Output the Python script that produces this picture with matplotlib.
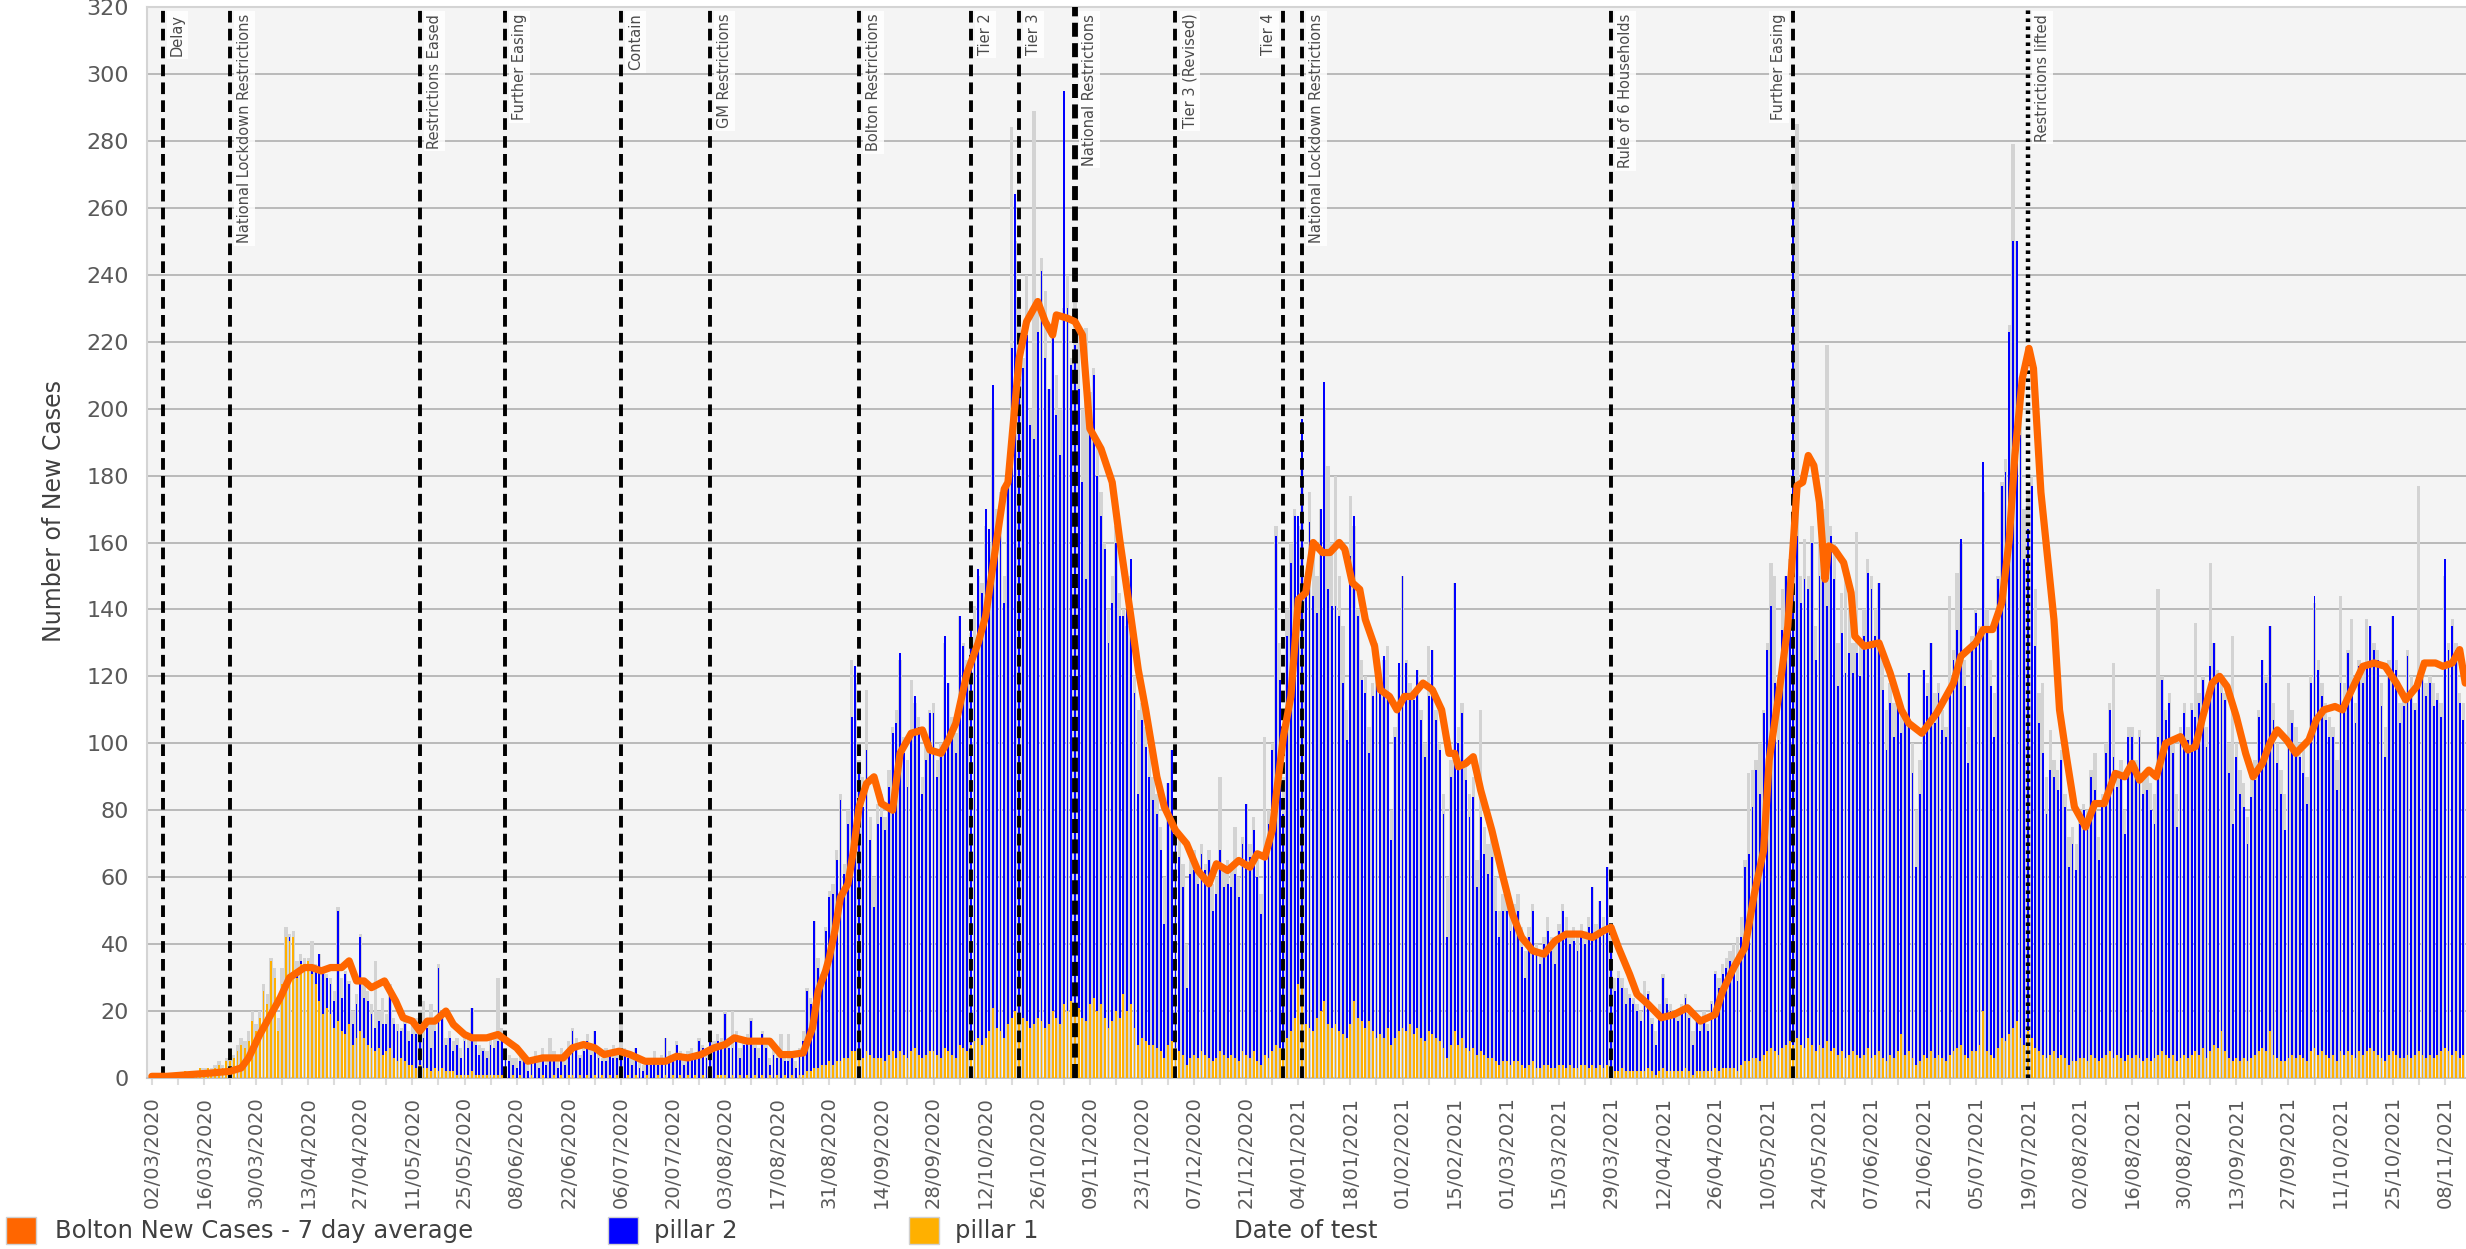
import matplotlib
matplotlib.use("Agg")
import matplotlib.pyplot as plt
from matplotlib.patches import Rectangle
import numpy as np
import pandas as pd

start = pd.Timestamp("2020-03-02")

# daily values, one row per fortnight from 02/03/2020
total_cases = [
    0, 0, 0, 0, 1, 0, 1, 1, 1, 2, 1, 2, 2, 3,
    3, 3, 3, 4, 5, 4, 6, 6, 7, 10, 12, 11, 14, 20,
    16, 20, 28, 25, 36, 33, 18, 33, 45, 43, 44, 35, 37, 36,
    36, 41, 34, 37, 33, 31, 30, 26, 51, 30, 32, 29, 20, 25,
    43, 30, 26, 22, 35, 20, 24, 19, 28, 18, 16, 15, 17, 14,
    16, 18, 14, 23, 17, 22, 16, 34, 20, 12, 14, 11, 12, 9,
    12, 13, 21, 11, 10, 9, 8, 13, 12, 30, 15, 9, 7, 6,
    6, 8, 7, 4, 6, 8, 5, 9, 7, 12, 8, 5, 9, 6,
    11, 15, 12, 7, 10, 13, 9, 14, 8, 6, 9, 8, 10, 7,
    16, 9, 7, 6, 9, 5, 4, 6, 5, 8, 5, 7, 12, 8,
    7, 11, 8, 6, 8, 9, 7, 12, 10, 9, 14, 11, 13, 12,
    20, 12, 20, 14, 9, 12, 13, 18, 10, 9, 14, 11, 6, 9,
    7, 13, 6, 13, 8, 5, 9, 14, 27, 24, 47, 36, 31, 45,
    56, 58, 68, 85, 64, 80, 125, 118, 95, 90, 116, 78, 60, 82,
    85, 78, 92, 105, 110, 125, 102, 95, 119, 112, 108, 90, 100, 110,
    112, 95, 100, 130, 118, 108, 103, 138, 130, 125, 133, 141, 150, 148,
    165, 160, 200, 170, 175, 150, 180, 284, 250, 230, 215, 240, 200, 289,
    230, 245, 235, 206, 225, 210, 200, 230, 240, 215, 235, 222, 200, 224,
    205, 212, 190, 175, 160, 140, 150, 165, 145, 140, 135, 150, 120, 110,
    112, 105, 98, 90, 85, 75, 60, 88, 98, 78, 72, 64, 40, 65,
    68, 62, 70, 64, 68, 58, 60, 90, 62, 65, 64, 75, 60, 72,
    82, 70, 78, 65, 55, 102, 80, 100, 165, 130, 90, 140, 160, 170,
    165, 185, 150, 175, 160, 150, 170, 200, 183, 160, 180, 150, 135, 110,
    174, 165, 140, 125, 120, 105, 118, 130, 120, 125, 129, 80, 105, 120,
    150, 125, 118, 115, 122, 110, 100, 129, 128, 110, 100, 85, 60, 95,
    148, 105, 112, 95, 85, 90, 65, 110, 75, 70, 72, 60, 50, 55,
    55, 50, 52, 55, 45, 38, 45, 52, 40, 38, 42, 48, 42, 40,
    46, 52, 48, 44, 45, 42, 46, 44, 48, 57, 46, 53, 48, 63,
    45, 30, 32, 30, 27, 25, 24, 22, 20, 29, 26, 18, 14, 22,
    31, 24, 22, 20, 19, 22, 25, 19, 14, 18, 17, 20, 16, 23,
    32, 30, 34, 36, 38, 40, 42, 48, 65, 91, 92, 95, 100, 110,
    130, 154, 150, 120, 146, 150, 155, 270, 285, 150, 161, 150, 165, 135,
    160, 170, 219, 165, 160, 130, 145, 150, 140, 130, 163, 130, 140, 155,
    150, 140, 148, 125, 110, 118, 112, 115, 110, 108, 121, 100, 80, 95,
    122, 118, 130, 115, 118, 110, 105, 144, 128, 151, 160, 125, 105, 132,
    140, 135, 175, 140, 125, 115, 150, 178, 185, 225, 279, 250, 200, 170,
    175, 180, 146, 115, 118, 90, 104, 95, 92, 98, 85, 72, 75, 70,
    80, 82, 80, 92, 97, 72, 85, 100, 112, 124, 92, 95, 80, 105,
    105, 95, 104, 90, 92, 88, 85, 146, 120, 110, 115, 100, 85, 105,
    112, 105, 112, 136, 115, 120, 105, 154, 130, 122, 120, 115, 100, 132,
    100, 92, 88, 78, 90, 95, 110, 125, 120, 135, 112, 100, 92, 85,
    118, 110, 105, 100, 98, 90, 120, 142, 125, 118, 112, 108, 105, 95,
    144, 118, 128, 137, 112, 125, 122, 137, 135, 130, 128, 118, 105, 125,
    138, 125, 112, 115, 128, 120, 112, 177, 125, 118, 120, 118, 115, 112,
    150, 130, 137, 130, 115, 112,
]

pillar2 = [
    0, 0, 0, 0, 0, 0, 0, 0, 0, 0, 0, 0, 0, 0,
    0, 0, 0, 0, 0, 0, 0, 0, 0, 0, 0, 0, 0, 0,
    0, 0, 0, 0, 0, 0, 0, 0, 0, 1, 0, 1, 1, 2,
    0, 2, 5, 14, 12, 9, 9, 8, 33, 10, 18, 12, 6, 10,
    28, 12, 13, 10, 7, 8, 9, 8, 18, 10, 9, 8, 11, 7,
    9, 10, 8, 9, 12, 7, 11, 31, 15, 8, 10, 6, 9, 5,
    10, 8, 19, 9, 6, 7, 5, 9, 8, 10, 12, 6, 5, 3,
    3, 4, 5, 2, 4, 6, 3, 5, 4, 6, 5, 3, 6, 4,
    8, 13, 9, 5, 8, 10, 7, 13, 6, 4, 5, 7, 6, 5,
    6, 7, 5, 4, 8, 3, 2, 5, 4, 6, 3, 5, 11, 6,
    5, 10, 6, 4, 5, 7, 6, 11, 8, 6, 12, 9, 10, 8,
    18, 9, 8, 12, 5, 10, 11, 17, 8, 6, 12, 9, 3, 7,
    5, 6, 4, 5, 6, 3, 7, 10, 24, 20, 44, 30, 25, 40,
    49, 51, 60, 78, 55, 70, 100, 115, 85, 75, 90, 64, 45, 70,
    72, 69, 80, 95, 100, 119, 90, 81, 95, 105, 98, 79, 88, 101,
    101, 83, 90, 123, 110, 95, 91, 128, 120, 113, 125, 118, 140, 135,
    158, 150, 186, 145, 160, 130, 165, 200, 244, 190, 194, 205, 180, 175,
    205, 224, 200, 190, 202, 180, 170, 273, 210, 190, 200, 185, 160, 132,
    180, 186, 160, 146, 140, 115, 125, 140, 120, 113, 120, 133, 100, 75,
    95, 88, 80, 73, 70, 60, 40, 78, 87, 65, 58, 50, 23, 55,
    55, 52, 59, 55, 59, 45, 49, 60, 50, 52, 50, 55, 49, 62,
    75, 60, 66, 55, 45, 60, 70, 90, 152, 110, 71, 120, 140, 150,
    140, 167, 130, 151, 130, 121, 150, 185, 130, 126, 125, 124, 105, 89,
    140, 145, 120, 102, 100, 80, 100, 116, 105, 114, 100, 61, 90, 110,
    135, 110, 97, 100, 107, 95, 85, 100, 115, 95, 87, 70, 36, 80,
    134, 90, 97, 80, 70, 75, 50, 70, 60, 55, 60, 45, 38, 45,
    45, 40, 42, 45, 35, 27, 38, 45, 35, 31, 36, 40, 35, 31,
    40, 46, 40, 36, 38, 35, 38, 36, 42, 53, 40, 49, 42, 59,
    38, 24, 28, 24, 20, 22, 20, 18, 15, 20, 22, 14, 9, 18,
    27, 20, 18, 16, 15, 18, 21, 16, 9, 15, 12, 16, 12, 20,
    28, 25, 28, 30, 32, 30, 27, 38, 58, 62, 75, 86, 80, 102,
    120, 132, 110, 94, 125, 140, 145, 255, 150, 132, 140, 134, 150, 117,
    140, 157, 130, 154, 140, 110, 125, 115, 120, 113, 120, 114, 125, 142,
    140, 125, 140, 110, 93, 105, 96, 105, 90, 100, 113, 85, 59, 80,
    115, 108, 122, 100, 108, 98, 97, 110, 117, 125, 151, 110, 88, 120,
    131, 120, 164, 125, 110, 96, 140, 165, 170, 210, 235, 233, 180, 145,
    150, 165, 120, 98, 90, 73, 85, 82, 80, 88, 75, 59, 65, 57,
    70, 74, 70, 83, 80, 60, 75, 90, 102, 90, 80, 85, 68, 95,
    96, 85, 96, 80, 80, 75, 70, 95, 111, 100, 106, 90, 70, 95,
    102, 95, 103, 100, 105, 110, 93, 115, 120, 110, 101, 105, 85, 71,
    90, 80, 75, 65, 78, 82, 100, 116, 110, 121, 100, 88, 80, 69,
    95, 99, 92, 89, 85, 77, 110, 135, 115, 106, 100, 96, 95, 81,
    110, 105, 119, 110, 100, 115, 111, 115, 126, 120, 118, 105, 91, 115,
    130, 115, 100, 105, 119, 110, 103, 110, 115, 108, 111, 105, 106, 100,
    146, 120, 128, 120, 106, 100,
]

pillar1 = [
    0, 0, 0, 0, 1, 0, 1, 1, 1, 2, 1, 2, 2, 3,
    2, 3, 2, 3, 4, 3, 5, 5, 6, 8, 10, 9, 11, 17,
    14, 18, 26, 22, 35, 30, 14, 28, 42, 41, 42, 30, 34, 32,
    35, 31, 28, 23, 19, 21, 19, 15, 17, 14, 13, 16, 10, 12,
    14, 12, 10, 9, 8, 9, 7, 8, 9, 6, 5, 6, 5, 4,
    4, 3, 4, 3, 3, 2, 3, 2, 3, 2, 2, 2, 1, 1,
    1, 1, 2, 1, 1, 1, 1, 1, 1, 1, 1, 1, 0, 1,
    0, 1, 0, 0, 1, 0, 0, 1, 0, 0, 1, 0, 1, 0,
    1, 1, 0, 1, 0, 1, 0, 1, 0, 1, 0, 1, 0, 1,
    1, 0, 1, 0, 1, 0, 0, 1, 0, 0, 1, 0, 1, 0,
    1, 0, 1, 0, 1, 0, 1, 0, 1, 0, 1, 0, 1, 1,
    1, 0, 1, 0, 1, 0, 1, 0, 1, 0, 1, 0, 1, 0,
    1, 0, 1, 0, 1, 0, 1, 1, 2, 2, 3, 3, 4, 4,
    5, 4, 5, 5, 6, 6, 8, 8, 7, 6, 8, 7, 6, 6,
    6, 5, 7, 8, 6, 8, 7, 6, 8, 9, 7, 6, 7, 8,
    8, 7, 6, 9, 8, 7, 6, 10, 9, 8, 10, 11, 12, 10,
    12, 14, 21, 15, 14, 12, 16, 18, 20, 16, 18, 17, 15, 16,
    18, 17, 15, 16, 20, 18, 16, 22, 20, 23, 19, 21, 18, 17,
    22, 24, 20, 22, 18, 15, 17, 20, 18, 25, 20, 22, 15, 10,
    12, 11, 10, 10, 9, 8, 6, 10, 11, 9, 8, 7, 4, 6,
    7, 6, 8, 7, 6, 5, 6, 8, 7, 6, 7, 6, 5, 8,
    7, 6, 8, 5, 4, 7, 6, 8, 10, 9, 8, 12, 14, 18,
    28, 30, 16, 15, 14, 18, 20, 23, 16, 15, 16, 14, 13, 12,
    16, 23, 18, 17, 15, 17, 14, 12, 13, 12, 15, 10, 12, 14,
    15, 14, 16, 13, 15, 12, 11, 14, 13, 12, 11, 9, 6, 10,
    14, 10, 12, 9, 8, 9, 7, 8, 7, 6, 6, 5, 4, 5,
    5, 4, 5, 5, 4, 3, 4, 5, 3, 3, 4, 4, 3, 3,
    4, 4, 3, 4, 3, 3, 4, 4, 3, 4, 3, 4, 3, 4,
    3, 2, 2, 3, 2, 2, 2, 2, 2, 2, 3, 2, 1, 2,
    3, 2, 2, 2, 2, 2, 3, 2, 1, 2, 2, 2, 2, 2,
    3, 2, 3, 3, 3, 3, 2, 4, 5, 5, 6, 6, 5, 7,
    8, 9, 8, 7, 9, 10, 11, 10, 12, 10, 9, 12, 10, 8,
    10, 9, 11, 8, 9, 7, 8, 6, 7, 8, 7, 6, 7, 9,
    6, 7, 8, 6, 5, 7, 6, 8, 13, 7, 8, 6, 4, 5,
    7, 6, 8, 6, 7, 6, 5, 7, 8, 9, 10, 7, 6, 8,
    8, 10, 20, 8, 7, 6, 9, 12, 11, 13, 15, 17, 12, 10,
    14, 12, 9, 8, 7, 6, 7, 8, 6, 7, 6, 4, 5, 5,
    6, 6, 5, 7, 6, 5, 6, 7, 8, 6, 7, 6, 5, 7,
    6, 7, 6, 5, 6, 5, 6, 7, 8, 7, 6, 7, 5, 6,
    7, 6, 7, 8, 7, 9, 6, 8, 10, 9, 14, 8, 6, 5,
    6, 5, 6, 5, 6, 7, 8, 9, 8, 14, 7, 6, 5, 5,
    6, 7, 6, 7, 6, 5, 8, 9, 7, 8, 7, 6, 7, 5,
    8, 7, 8, 7, 6, 8, 7, 8, 9, 8, 7, 6, 5, 7,
    8, 7, 6, 6, 7, 6, 7, 8, 7, 6, 7, 6, 7, 8,
    9, 8, 7, 8, 6, 7,
]

# 7 day average (day offset from 02/03/2020, cases)
avg_days = [0, 4, 10, 16, 21, 24, 26, 29, 32, 34.5, 37, 41, 43, 45.5, 48, 51, 53,
            55, 57, 59, 62.5, 65.5, 67.5, 70, 72, 74, 76, 79, 81, 84, 86, 90,
            93, 95.5, 98, 101, 105, 108, 110.5, 113, 116, 119, 121.5, 125.5,
            128.5, 132.5, 138, 141, 144, 147.5, 151, 154, 156.5, 160, 163.5,
            166, 169, 172, 175, 177.5, 179, 181, 182, 183.5, 185, 187, 188.5,
            190, 192, 194, 196, 199, 201, 204, 207, 209, 212, 214, 216, 219,
            222, 224, 227, 229, 230, 233, 235, 238, 240, 242, 243, 246, 248,
            250, 252, 255, 258, 260, 263, 265, 267, 270, 272, 275, 278, 281,
            284, 286, 289, 292, 295, 297, 299, 301, 302, 304, 306, 308, 310,
            312, 314.5, 316.5, 319, 320.5, 322.5, 324.5, 326, 328.5, 330,
            332.5, 334.5, 336.5, 338.5, 341.5, 344, 346.5, 348.5, 350, 351,
            353, 355, 357, 360, 363, 365.5, 368, 371, 374, 377, 380, 384, 387,
            390, 392, 394, 397, 399, 402, 405.5, 409, 412.5, 416, 420, 422,
            425, 428, 430.5, 433, 434.5, 437, 439.5, 442, 443.5, 445, 446.5,
            448, 449.5, 450.5, 452, 454.5, 456.5, 457.5, 460, 464, 467, 470,
            472, 475.5, 479.5, 484, 486, 490, 492, 494.5, 497, 499, 500.5,
            502.5, 504.3, 505.5, 507.5, 511, 512.5, 514.5, 516.5, 519.5, 522,
            524.5, 527.5, 530, 532, 534, 536.5, 538.5, 541, 545, 547, 549, 551,
            553.5, 555.5, 557.5, 560, 562.5, 564.5, 567, 569, 571, 573.5, 576,
            579.5, 581.5, 583.5, 586.5, 588.5, 591, 594, 597, 600, 603, 605.5,
            608.5, 610.5, 613.5, 615.5, 618, 620, 621.5]
avg_vals = [0.5, 0.5, 1, 1.5, 2, 3, 6, 13, 19, 24, 30, 33, 33, 32, 33, 33, 35,
            29, 29, 27, 29, 23, 18, 17, 14, 17, 17, 20, 16, 13, 12, 12,
            13, 11, 9, 5, 6, 6, 6, 9, 10, 9, 7, 8,
            7, 5, 5, 6.5, 6, 7, 9, 10, 12, 11, 11,
            11, 7, 7, 7.5, 15, 26, 32, 36, 44, 54, 58, 68,
            81, 88, 90, 82, 80, 97, 103, 104, 98, 97, 101, 106, 121,
            130, 138, 161, 176, 178, 215, 226, 232, 226, 222, 228, 227, 226,
            222, 194, 188, 178, 161, 138, 122, 110, 90, 81, 74, 70, 62,
            58, 64, 62, 65, 63, 67, 66, 74, 84, 102, 114, 143, 145,
            160, 157, 157, 160, 158, 148, 146, 137, 129, 116,
            114, 110, 114, 114, 118, 116, 110, 97, 97, 93,
            94, 96, 86, 74, 60, 49, 42, 38, 37, 41, 43, 43, 42,
            44, 45, 39, 31, 25, 22, 18, 19, 21, 17, 19, 26,
            33, 39, 55, 68, 95, 114, 135, 177, 178, 186, 183,
            172, 149, 159, 158, 154, 145, 132, 129, 130, 121, 110,
            106, 103, 109, 118, 126, 130, 134, 134, 142, 161, 186,
            209, 218, 212, 175, 137, 110, 95, 81, 75, 82,
            82, 91, 90, 94, 89, 92, 90, 100, 102, 98, 99, 108,
            118, 120, 117, 108, 97, 90, 94, 100, 104, 101, 97,
            101, 107, 110, 111, 110, 116, 123, 124, 123, 118, 113,
            117, 124, 124, 123, 124, 128, 118]

# restriction changes: (date, label)
events = [
    ("2020-03-05", "Delay"),
    ("2020-03-23", "National Lockdown Restrictions"),
    ("2020-05-13", "Restrictions Eased"),
    ("2020-06-05", "Further Easing"),
    ("2020-07-06", "Contain"),
    ("2020-07-30", "GM Restrictions"),
    ("2020-09-08", "Bolton Restrictions"),
    ("2020-10-08", "Tier 2"),
    ("2020-10-21", "Tier 3"),
    ("2020-11-05", "National Restrictions"),
    ("2020-12-02", "Tier 3 (Revised)"),
    ("2020-12-31", "Tier 4"),
    ("2021-01-05", "National Lockdown Restrictions"),
    ("2021-03-29", "Rule of 6 Households"),
    ("2021-05-17", "Further Easing"),
    ("2021-07-19", "Restrictions lifted"),
]

days = np.arange(len(total_cases))
tick_dates = pd.date_range("2020-03-02", "2021-11-08", freq="14D")
tick_pos = [(t - start).days for t in tick_dates]
tick_labels = [t.strftime("%d/%m/%Y") for t in tick_dates]

fig = plt.figure(figsize=(24.66, 12.49), dpi=100)
ax = fig.add_axes([147 / 2466, 1 - 1078 / 1249, 1 - 147 / 2466, (1078 - 7) / 1249])
ax.set_facecolor("#f4f4f4")

ax.bar(days, total_cases, width=0.9, color="#d3d3d3", zorder=2)
ax.bar(days, pillar1, width=0.5, color="#ffb000", zorder=3)
ax.bar(days, pillar2, width=0.5, bottom=pillar1, color="#0000ff", zorder=3)

for i, (dt, lab) in enumerate(events):
    d = (pd.Timestamp(dt) - start).days
    if i == 15:
        ax.axvline(d, color="black", lw=3.2, ls=(0, (0.8, 1.0)), zorder=4)
    elif i == 9:
        ax.axvline(d, color="black", lw=4.2, ls=(0, (2.4, 1.1)), zorder=4)
    else:
        ax.axvline(d, color="black", lw=2.8, ls=(0, (3, 1.6)), zorder=4)
    left = i in (11, 14)
    ax.annotate(lab, xy=(d, 318), xytext=(-5 if left else 5, 0),
                textcoords="offset points", rotation=90,
                ha="right" if left else "left", va="top",
                fontsize=10.5, color="#4a4a4a", zorder=6,
                bbox=dict(boxstyle="square,pad=0.2", fc="white", ec="none", alpha=0.85))

ax.plot(avg_days, avg_vals, color="#ff6600", lw=5.2, zorder=5,
        solid_joinstyle="round", solid_capstyle="round")

ax.set_xlim(-1.3, 621.7)
ax.set_ylim(0, 320)
ax.set_yticks(range(0, 321, 20))
ax.yaxis.grid(True, color="#b4b4b4", lw=1.3)
ax.set_axisbelow(True)
ax.tick_params(axis="y", length=0, pad=13, labelsize=16, labelcolor="#595959")

ax.set_xticks(np.arange(0, 622, 7), minor=True)
ax.set_xticks(tick_pos)
ax.set_xticklabels(tick_labels, rotation=90, fontsize=14, color="#595959")
ax.tick_params(axis="x", which="both", length=5, width=1.5, color="#dcdcdc", pad=8)

ax.spines["right"].set_visible(False)
ax.spines["top"].set_color("#d4d4d4")
ax.spines["left"].set_color("#d4d4d4")
ax.spines["bottom"].set_color("#c4c4c4")
for s in ["top", "left", "bottom"]:
    ax.spines[s].set_linewidth(1.5)

ax.set_ylabel("Number of New Cases", fontsize=17, color="#404040")
ax.yaxis.set_label_coords(-0.035, 0.529)

ax.set_xlabel("Date of test", fontsize=17.5, color="#404040", ha="left", va="center")
ax.xaxis.set_label_coords((1234 - 147) / 2319, -(1231 - 1078) / 1071)

# legend row
W, H = 2466, 1249
legend_items = [("Bolton New Cases - 7 day average", "#ff6600", 6, 55),
                ("pillar 2", "#0000ff", 608, 654),
                ("pillar 1", "#ffb000", 909, 955)]
for lab, col, x0, xt in legend_items:
    fig.patches.append(Rectangle((x0 / W, 1 - 1244 / H), 30 / W, 27 / H,
                                 transform=fig.transFigure, fc=col, ec="#d0d0d0", lw=1))
    fig.text(xt / W, 1 - 1231 / H, lab, fontsize=17.5, color="#404040", va="center", ha="left")

fig.savefig("out.png", dpi=100)
